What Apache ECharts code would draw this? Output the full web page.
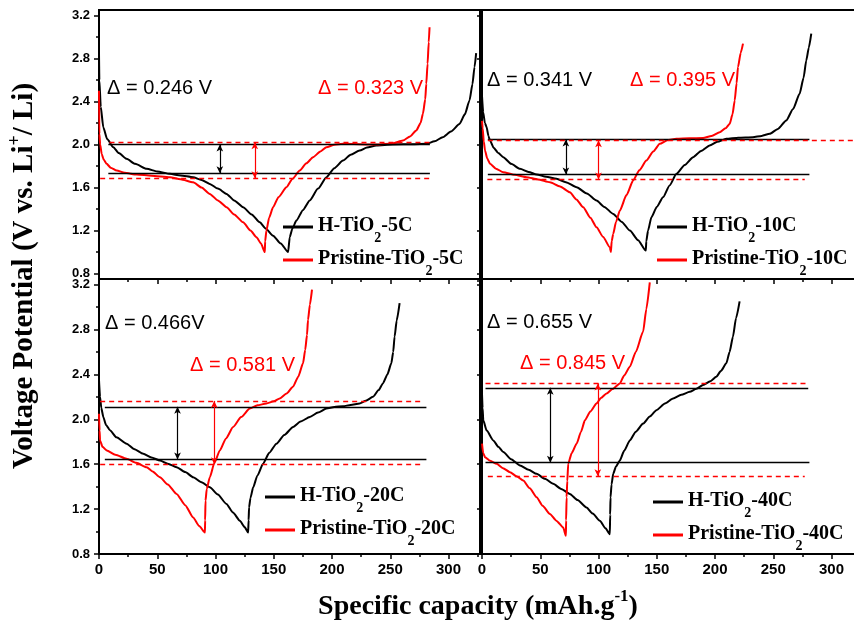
<!DOCTYPE html>
<html>
<head>
<meta charset="utf-8">
<script src="https://cdn.jsdelivr.net/npm/echarts@6/dist/echarts.min.js"></script>
<style>
  html, body { margin: 0; padding: 0; background: #fff; }
  #chart { width: 854px; height: 626px; }
</style>
</head>
<body>
<div id="chart"></div>
<script>
// tick values
var xMajor = [0, 50, 100, 150, 200, 250, 300];
var xMinor = [25, 75, 125, 175, 225, 275, 325];
var yMajor = [0.8, 1.2, 1.6, 2.0, 2.4, 2.8, 3.2];
var yMinor = [1.0, 1.4, 1.8, 2.2, 2.6, 3.0];
var rates = ['5C', '10C', '20C', '40C'];

// charge/discharge curves: [capacity mAh/g, voltage V]
var h5C = [[0,2.85],[0.3,2.6],[1.5,2.35],[3.7,2.16],[7,2.05],[12.3,1.975],[17,1.92],[23.7,1.867],[31,1.82],[40.9,1.774],[50,1.75],[60.9,1.727],[70,1.712],[80.8,1.696],[88,1.67],[95,1.634],[102,1.59],[109.5,1.541],[116,1.48],[123.7,1.417],[131,1.35],[138,1.277],[143,1.22],[149.4,1.153],[156,1.08],[162.3,1.0],[163.7,1.138],[166,1.22],[169.4,1.293],[175,1.39],[180.9,1.479],[188,1.59],[195.2,1.696],[202,1.78],[209.4,1.851],[216,1.905],[223.7,1.944],[230,1.972],[238,1.991],[252,2.0],[270,2.003],[280.9,2.006],[288,2.03],[295,2.068],[302,2.12],[309.4,2.19],[314,2.28],[318,2.41],[320.5,2.56],[322.3,2.72],[323.7,2.85]];
var p5C = [[0,2.5],[0.3,2.1],[1,2.0],[2.3,1.913],[4,1.86],[6.6,1.82],[10,1.785],[15.2,1.758],[22,1.737],[32.3,1.721],[45,1.71],[60.9,1.696],[70,1.678],[80.8,1.649],[88,1.6],[95.1,1.541],[102,1.48],[109.5,1.417],[116,1.35],[123.7,1.277],[130,1.2],[135.2,1.138],[139,1.08],[142.3,1.0],[142.6,1.1],[143.7,1.2],[146,1.32],[149.4,1.417],[154,1.51],[160.9,1.603],[166,1.68],[172.3,1.758],[178,1.825],[183.7,1.882],[190,1.935],[195.2,1.975],[202,1.998],[209.4,2.006],[238,2.0],[252,2.01],[260.8,2.037],[267,2.075],[272.3,2.13],[276,2.2],[278,2.286],[280,2.42],[280.9,2.565],[282,2.75],[283,2.95],[283.7,3.09]];
var h10C = [[0,2.45],[1,2.3],[2.5,2.2],[4,2.16],[5.5,2.08],[6.9,2.037],[10,1.97],[14,1.92],[18.3,1.882],[25,1.82],[32.6,1.774],[40,1.745],[46.9,1.721],[55,1.7],[64,1.681],[72,1.65],[81.2,1.603],[90,1.545],[98.3,1.479],[105,1.42],[112.6,1.355],[120,1.28],[126.9,1.2],[134,1.11],[140.6,1.014],[141,1.1],[142.5,1.2],[145.4,1.324],[150,1.42],[155.4,1.51],[161,1.62],[166.9,1.727],[174,1.81],[181.2,1.882],[188,1.94],[195.4,1.991],[202,2.025],[209.7,2.053],[220,2.063],[232.5,2.068],[240,2.08],[246.9,2.1],[254,2.145],[261.1,2.223],[267,2.33],[272.6,2.472],[276,2.62],[278.3,2.781],[280.5,2.9],[282.6,3.03]];
var p10C = [[0,2.22],[0.6,2.15],[1.5,2.03],[2.6,1.944],[4.5,1.87],[6.9,1.82],[12,1.775],[18.3,1.742],[28,1.718],[38.3,1.696],[48,1.675],[58.3,1.649],[67,1.61],[75.4,1.556],[81,1.49],[86.9,1.417],[93,1.32],[98.3,1.231],[104,1.14],[109.7,1.045],[110.6,1.0],[111.3,1.1],[112.6,1.169],[115,1.28],[118.3,1.386],[124,1.53],[129.7,1.665],[135,1.76],[141.1,1.851],[147,1.935],[152.6,2.006],[159,2.04],[166.9,2.053],[178,2.057],[189.7,2.06],[197,2.08],[204,2.114],[209,2.15],[212.6,2.192],[215,2.28],[216.9,2.41],[218.5,2.57],[219.7,2.72],[222,2.85],[224,2.937]];
var h20C = [[0,2.35],[0.9,2.2],[2,2.1],[3.7,2.021],[6,1.95],[9.4,1.902],[15,1.84],[23.7,1.783],[30,1.735],[38,1.693],[45,1.66],[52.3,1.633],[59,1.605],[66.6,1.573],[74,1.53],[80.8,1.484],[88,1.44],[95.1,1.394],[102,1.33],[109.4,1.246],[115,1.17],[120.9,1.096],[125,1.04],[128,0.991],[128.4,1.1],[128.8,1.215],[130,1.3],[132.3,1.394],[136,1.5],[140.8,1.604],[146,1.7],[152.3,1.783],[159,1.86],[166.6,1.931],[173,1.98],[180.9,2.021],[188,2.06],[195.2,2.096],[202,2.11],[209.4,2.117],[216,2.127],[223.7,2.141],[229,2.165],[235.1,2.2],[240,2.26],[243.7,2.32],[247.5,2.4],[250.9,2.499],[252.5,2.6],[253.7,2.737],[255.5,2.88],[258,3.036]];
var p20C = [[0,2.05],[0.5,1.9],[0.9,1.812],[3,1.755],[6.6,1.723],[14,1.685],[23.7,1.648],[32,1.612],[40.9,1.573],[46,1.535],[52.3,1.484],[59,1.42],[66.6,1.335],[74,1.235],[80.8,1.126],[86,1.05],[90.9,0.991],[91.1,1.1],[91.4,1.275],[92.5,1.38],[95.1,1.484],[99,1.61],[103.7,1.723],[109,1.83],[115.1,1.931],[122,2.02],[129.4,2.096],[136,2.125],[143.7,2.141],[150,2.16],[155.1,2.186],[161,2.23],[166.5,2.29],[171,2.38],[175.1,2.499],[177,2.62],[178.5,2.75],[179.4,2.887],[181,3.02],[182.8,3.155]];
var h40C = [[0,2.23],[0.5,2.1],[1.1,1.991],[4,1.9],[9.7,1.812],[14,1.755],[18.3,1.708],[25,1.645],[32.6,1.589],[40,1.55],[46.9,1.514],[54,1.47],[61.1,1.425],[68,1.38],[75.4,1.335],[82,1.28],[89.7,1.215],[95,1.16],[101.1,1.096],[106,1.03],[109.7,0.977],[110,1.15],[110.3,1.305],[111.2,1.42],[112.6,1.514],[115,1.58],[118.3,1.633],[122,1.72],[126.9,1.812],[132,1.89],[138.3,1.962],[144,2.025],[149.7,2.081],[157,2.14],[164,2.186],[171,2.218],[178.3,2.245],[184,2.272],[189.7,2.305],[196,2.34],[201.1,2.379],[205,2.43],[209.7,2.499],[212.5,2.6],[215.4,2.737],[218,2.9],[221.1,3.05]];
var p40C = [[0,1.783],[1,1.7],[2.6,1.663],[7,1.63],[12.6,1.604],[18,1.565],[24,1.529],[30,1.49],[35.4,1.454],[41,1.385],[46.9,1.305],[52,1.23],[58.3,1.156],[64,1.095],[69.7,1.036],[72,0.962],[72.2,1.1],[72.6,1.305],[73.2,1.45],[74,1.604],[77,1.7],[81.2,1.783],[85,1.89],[88.3,1.991],[93,2.07],[98.3,2.141],[102,2.19],[106.9,2.23],[112,2.27],[118.3,2.32],[122,2.39],[126.9,2.469],[132,2.6],[138.3,2.782],[141,2.98],[144,3.22]];

// plateau guide lines: [voltage, from capacity, to capacity]
var h5CLines = [[2.0, 8, 284], [1.733, 8, 284]];
var p5CLines = [[2.021, 9, 284], [1.687, 1, 284]];
var h10CLines = [[2.047, 5, 281], [1.721, 5, 281]];
var p10CLines = [[2.04, 5, 326], [1.674, 4.6, 277]];
var h20CLines = [[2.111, 5, 281], [1.642, 5, 281]];
var p20CLines = [[2.164, 1, 278], [1.6, 1, 278]];
var h40CLines = [[2.281, 3, 280], [1.613, 3, 281]];
var p40CLines = [[2.32, 3, 280], [1.493, 5, 277]];
// capacity where the double arrows sit: [black, red]
var arrows5C = [103.7, 133.7];
var arrows10C = [72, 100];
var arrows20C = [67.4, 98.9];
var arrows40C = [58.6, 99.4];
// voltage hysteresis labels: [H-TiO2, pristine]
var delta5C = ['0.246 V', '0.323 V'];
var delta10C = ['0.341 V', '0.395 V'];
var delta20C = ['0.466V', '0.581 V'];
var delta40C = ['0.655 V', '0.845 V'];

var SERIF = '"Liberation Serif", "Times New Roman", serif';
var SANS = '"Liberation Sans", Arial, sans-serif';
var RED = '#ff0000';

var panels = [
  { rate: rates[0], h: h5C, p: p5C, hl: h5CLines, pl: p5CLines, ar: arrows5C, dl: delta5C,
    grid: { left: 99, top: 10, width: 381, height: 269 }, yMin: 0.75, showX: false, showY: true,
    legend: { left: 283, top: 216 }, dPos: [[107, 88], [318, 88]] },
  { rate: rates[1], h: h10C, p: p10C, hl: h10CLines, pl: p10CLines, ar: arrows10C, dl: delta10C,
    grid: { left: 482, top: 10, width: 381, height: 269 }, yMin: 0.75, showX: false, showY: false,
    legend: { left: 657, top: 216 }, dPos: [[487, 80], [630, 80]] },
  { rate: rates[2], h: h20C, p: p20C, hl: h20CLines, pl: p20CLines, ar: arrows20C, dl: delta20C,
    grid: { left: 99, top: 279, width: 381, height: 275 }, yMin: 0.8, showX: true, showY: true,
    legend: { left: 265, top: 486 }, dPos: [[105, 323], [190, 365]] },
  { rate: rates[3], h: h40C, p: p40C, hl: h40CLines, pl: p40CLines, ar: arrows40C, dl: delta40C,
    grid: { left: 482, top: 279, width: 381, height: 275 }, yMin: 0.8, showX: true, showY: false,
    legend: { left: 653, top: 491 }, dPos: [[487, 322], [520, 363]] }
];

var option = { animation: false, grid: [], xAxis: [], yAxis: [], series: [], legend: [], graphic: [] };

function guideLines(lines, color, dashed) {
  return lines.map(function (l) {
    return [
      { coord: [l[1], l[0]], symbol: 'none', lineStyle: { color: color, width: 1.3, type: dashed ? [5, 4] : 'solid' } },
      { coord: [l[2], l[0]], symbol: 'none' }
    ];
  });
}
function arrowLine(x, lines, color) {
  var a = { symbol: 'arrow', symbolSize: [5, 7] };
  return [
    Object.assign({ coord: [x, lines[0][0]], lineStyle: { color: color, width: 1.2, type: 'solid' } }, a),
    Object.assign({ coord: [x, lines[1][0]] }, a)
  ];
}

panels.forEach(function (pn, i) {
  option.grid.push(Object.assign({ show: true, borderColor: '#000', borderWidth: 2, outerBoundsMode: 'none' }, pn.grid));
  var tickStyle = { color: '#000', width: 1.5 };
  option.xAxis.push({
    type: 'value', gridIndex: i, position: 'bottom', min: 0, max: 327,
    axisLine: { show: true, onZero: false, lineStyle: { color: '#000', width: 2 } },
    axisTick: { show: true, length: 5, customValues: xMajor, lineStyle: tickStyle },
    axisLabel: { show: pn.showX, customValues: xMajor, margin: 8, color: '#000',
      fontFamily: SANS, fontWeight: 'bold', fontSize: 15 },
    splitLine: { show: false }
  });
  option.xAxis.push({
    type: 'value', gridIndex: i, position: 'bottom', min: 0, max: 327,
    axisLine: { show: false, onZero: false },
    axisTick: { show: true, length: 3, customValues: xMinor, lineStyle: tickStyle },
    axisLabel: { show: false }, splitLine: { show: false }
  });
  option.yAxis.push({
    type: 'value', gridIndex: i, position: 'left', min: pn.yMin, max: 3.25,
    axisLine: { show: true, onZero: false, lineStyle: { color: '#000', width: 2 } },
    axisTick: { show: true, length: 5, customValues: yMajor, lineStyle: tickStyle },
    axisLabel: { show: pn.showY, customValues: yMajor, margin: 9, color: '#000',
      fontFamily: SANS, fontWeight: 'bold', fontSize: 13,
      formatter: function (v) { return v.toFixed(1); } },
    splitLine: { show: false }
  });
  option.yAxis.push({
    type: 'value', gridIndex: i, position: 'left', min: pn.yMin, max: 3.25,
    axisLine: { show: false, onZero: false },
    axisTick: { show: true, length: 3, customValues: yMinor, lineStyle: tickStyle },
    axisLabel: { show: false }, splitLine: { show: false }
  });

  var hName = 'H-TiO2-' + pn.rate;
  var pName = 'Pristine-TiO2-' + pn.rate;
  var marks = guideLines(pn.hl, '#000', false)
    .concat(guideLines(pn.pl, RED, true))
    .concat([arrowLine(pn.ar[0], pn.hl, '#000'), arrowLine(pn.ar[1], pn.pl, RED)]);

  option.series.push({
    name: hName, type: 'line', xAxisIndex: 2 * i, yAxisIndex: 2 * i, data: pn.h,
    symbol: 'none', smooth: 0.2, smoothMonotone: 'x',
    lineStyle: { color: '#000', width: 2 }, itemStyle: { color: '#000' },
    markLine: { silent: true, animation: false, label: { show: false }, data: marks }
  });
  option.series.push({
    name: pName, type: 'line', xAxisIndex: 2 * i, yAxisIndex: 2 * i, data: pn.p,
    symbol: 'none', smooth: 0.2, smoothMonotone: 'x',
    lineStyle: { color: RED, width: 2 }, itemStyle: { color: RED }
  });

  option.legend.push({
    data: [hName, pName], orient: 'vertical', left: pn.legend.left, top: pn.legend.top,
    padding: 0, itemGap: 4, itemWidth: 30, itemHeight: 3, icon: 'rect', selectedMode: false,
    itemStyle: { borderWidth: 0 },
    formatter: function (name) {
      var parts = name.split('TiO2');
      return '{n|' + parts[0] + 'TiO}{s|2}{n|' + parts[1] + '}';
    },
    textStyle: {
      rich: {
        n: { fontFamily: SERIF, fontWeight: 'bold', fontSize: 20, lineHeight: 22, color: '#000', verticalAlign: 'top' },
        s: { fontFamily: SERIF, fontWeight: 'bold', fontSize: 14, lineHeight: 14, color: '#000', verticalAlign: 'top', padding: [15, 0, 0, 0] }
      }
    }
  });

  [['#000', 0], [RED, 1]].forEach(function (c) {
    option.graphic.push({
      type: 'text', x: pn.dPos[c[1]][0], y: pn.dPos[c[1]][1], silent: true,
      style: { text: '\u0394 = ' + pn.dl[c[1]], fill: c[0], font: '20px ' + SANS, verticalAlign: 'middle' }
    });
  });
});

function titleRich(size) {
  return {
    t: { fontFamily: SERIF, fontWeight: 'bold', fontSize: size, lineHeight: size + 3, fill: '#000', verticalAlign: 'top', padding: [4, 0, 0, 0] },
    p: { fontFamily: SERIF, fontWeight: 'bold', fontSize: Math.round(size * 0.62), lineHeight: 18, fill: '#000', verticalAlign: 'top' }
  };
}
option.graphic.push({
  type: 'text', x: 22, y: 276, rotation: Math.PI / 2, silent: true,
  style: { text: '{t|Voltage Potential (V vs. Li}{p|+}{t|/ Li)}', rich: titleRich(29), align: 'center', verticalAlign: 'middle' }
});
option.graphic.push({
  type: 'text', x: 478, y: 604, silent: true,
  style: { text: '{t|Specific capacity (mAh.g}{p|-1}{t|)}', rich: titleRich(28), align: 'center', verticalAlign: 'middle' }
});

var myChart = echarts.init(document.getElementById('chart'));
myChart.setOption(option);
</script>
</body>
</html>
